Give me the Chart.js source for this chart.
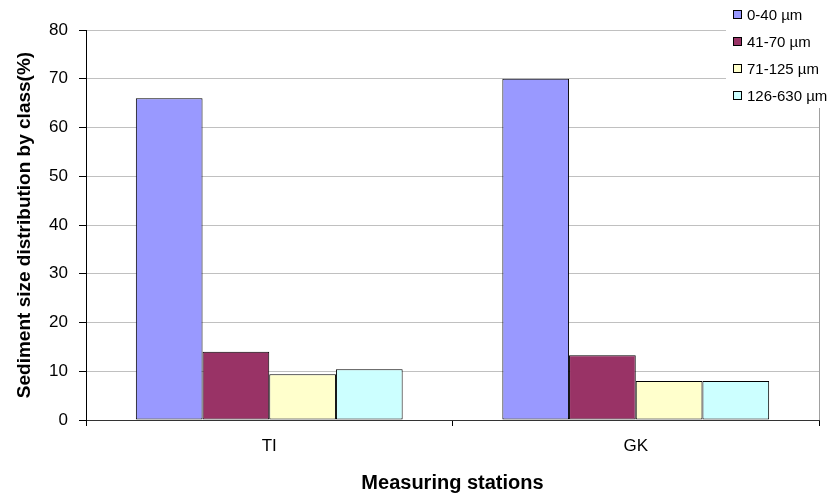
<!DOCTYPE html>
<html>
<head>
<meta charset="utf-8">
<script src="https://cdn.jsdelivr.net/npm/chart.js@4.4.1/dist/chart.umd.min.js"></script>
<style>
  html, body { margin: 0; padding: 0; background: #fff; }
  #wrap { width: 834px; height: 501px; position: relative; }
</style>
</head>
<body>
<div id="wrap"><canvas id="chart" width="834" height="501"></canvas></div>
<script>
// Stations on the x axis
const categories = ['TI', 'GK'];

// Grain size classes (legend)
const classLabels = ['0-40 µm', '41-70 µm', '71-125 µm', '126-630 µm'];
const classColors = ['#9999ff', '#993366', '#ffffcc', '#ccffff'];

// Percent of sediment per class, one value per station
const class0to40 = [66, 70];
const class41to70 = [14, 13.3];
const class71to125 = [9.4, 8];
const class126to630 = [10.4, 8];

// Y axis range / ticks
const yMin = 0;
const yMax = 80;
const yStep = 10;

const FONT = 'Arial, "Liberation Sans", sans-serif';

const seriesValues = [class0to40, class41to70, class71to125, class126to630];

/**
 * Legend box in the top right corner, over the plot area like the Excel original.
 */
const cornerLegend = {
    id: 'cornerLegend',
    afterDraw(chart) {
        const { ctx } = chart;
        ctx.save();
        ctx.fillStyle = '#ffffff';
        ctx.fillRect(726, 0, 108, 108);
        ctx.font = '15px ' + FONT;
        ctx.textBaseline = 'middle';
        ctx.textAlign = 'left';
        chart.data.datasets.forEach((ds, i) => {
            const y = 15 + i * 27;
            ctx.fillStyle = ds.backgroundColor;
            ctx.fillRect(733.5, y - 4.5, 8, 8);
            ctx.strokeStyle = '#000';
            ctx.lineWidth = 1;
            ctx.strokeRect(733.5, y - 4.5, 8, 8);
            ctx.fillStyle = '#000';
            ctx.fillText(ds.label, 747, y + 1);
        });
        ctx.restore();
    }
};

const datasets = classLabels.map((label, i) => ({
    label,
    data: seriesValues[i],
    backgroundColor: classColors[i],
    borderColor: '#000',
    borderWidth: 1,
    borderSkipped: false,
    barPercentage: 1,
    categoryPercentage: 0.728
}));

new Chart(document.getElementById('chart'), {
    type: 'bar',
    data: { labels: categories, datasets },
    options: {
        responsive: false,
        animation: false,
        events: [],
        layout: { padding: { top: 30, right: 15, left: 0, bottom: 0 } },
        plugins: {
            legend: { display: false },
            tooltip: { enabled: false }
        },
        scales: {
            x: {
                afterFit: scale => { scale.height = 81; },
                grid: {
                    offset: true,
                    drawOnChartArea: true,
                    // only the right-hand plot edge is drawn
                    color: c => (c.tick ? 'rgba(0,0,0,0)' : '#a0a0a0'),
                    tickColor: '#000',
                    tickLength: 6
                },
                border: { color: '#333', width: 1 },
                ticks: {
                    color: '#000',
                    padding: 10,
                    font: { family: FONT, size: 17 }
                },
                title: {
                    display: true,
                    text: 'Measuring stations',
                    color: '#000',
                    font: { family: FONT, size: 20, weight: 'bold' },
                    padding: { top: 0, bottom: 6 }
                }
            },
            y: {
                min: yMin,
                max: yMax,
                afterFit: scale => { scale.width = 86; },
                grid: {
                    color: '#c0c0c0',
                    tickColor: '#000',
                    tickLength: 7
                },
                border: { color: '#000', width: 1 },
                ticks: {
                    stepSize: yStep,
                    color: '#000',
                    padding: 11,
                    font: { family: FONT, size: 17 }
                },
                title: {
                    display: true,
                    text: 'Sediment size distribution by class(%)',
                    color: '#000',
                    font: { family: FONT, size: 19, weight: 'bold' },
                    padding: { top: 13, bottom: 0 }
                }
            }
        }
    },
    plugins: [cornerLegend]
});
</script>
</body>
</html>
